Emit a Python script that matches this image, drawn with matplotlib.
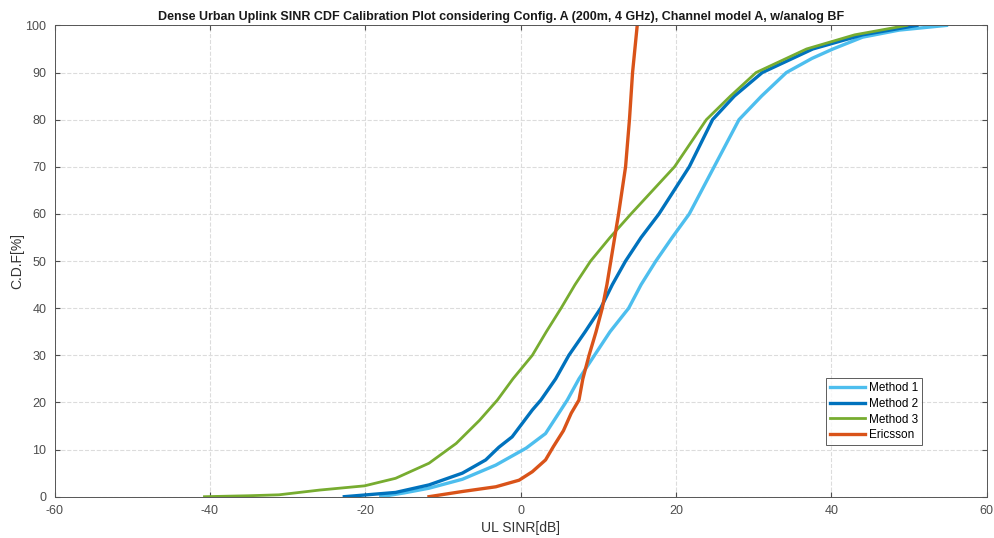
import matplotlib.pyplot as plt

plt.rcParams['font.family'] = ['Liberation Sans', 'DejaVu Sans']
plt.rcParams['axes.unicode_minus'] = False

# CDF readings (SINR in dB, CDF in %)
m1_x = [-18.0, -15.0, -11.8, -7.5, -3.2, 0.7, 3.2, 6.0, 7.5, 9.5, 11.5, 13.9, 15.5, 17.4, 19.5, 21.7, 24.9, 28.1, 31.0, 34.2, 37.5, 40.2, 44.0, 48.7, 54.8]
m1_y = [0.0, 0.8, 1.8, 3.7, 6.7, 10.3, 13.4, 20.5, 25.0, 30.0, 35.0, 40.0, 45.0, 50.0, 55.0, 60.0, 70.0, 80.0, 85.0, 90.0, 93.0, 95.0, 97.5, 99.0, 100.0]

m2_x = [-22.7, -16.1, -11.8, -7.5, -4.5, -2.8, -1.1, 1.5, 2.6, 4.5, 6.2, 8.3, 10.3, 11.8, 13.5, 15.5, 17.8, 21.7, 24.7, 27.5, 31.1, 37.6, 44.0, 51.0]
m2_y = [0.0, 0.9, 2.5, 5.0, 7.8, 10.5, 12.7, 18.4, 20.5, 25.0, 30.0, 35.0, 40.0, 45.0, 50.0, 55.0, 60.0, 70.0, 80.0, 85.0, 90.0, 95.0, 98.0, 100.0]

m3_x = [-40.7, -35.0, -31.1, -25.9, -20.1, -16.1, -11.8, -8.3, -5.3, -3.0, -1.0, 1.5, 3.3, 5.2, 7.0, 9.0, 11.5, 14.2, 17.0, 19.8, 23.9, 27.0, 30.3, 36.8, 43.0, 49.7]
m3_y = [0.0, 0.2, 0.4, 1.4, 2.3, 3.9, 7.1, 11.3, 16.2, 20.5, 25.0, 30.0, 35.0, 40.0, 45.0, 50.0, 55.0, 60.0, 65.0, 70.0, 80.0, 85.0, 90.0, 95.0, 98.0, 100.0]

er_x = [-11.8, -7.5, -3.2, -0.2, 1.5, 3.2, 4.2, 5.5, 6.5, 7.5, 8.0, 8.8, 9.7, 10.5, 11.1, 11.6, 12.1, 12.6, 13.5, 14.0, 14.4, 15.0]
er_y = [0.0, 1.1, 2.1, 3.5, 5.3, 7.8, 10.6, 14.0, 17.7, 20.5, 25.0, 30.0, 35.0, 40.0, 45.0, 50.0, 55.0, 60.0, 70.0, 80.0, 90.0, 100.0]

fig = plt.figure(figsize=(9.95, 5.38), dpi=100)
ax = fig.add_axes([0.0548, 0.0768, 0.937, 0.876])

ax.plot(m1_x, m1_y, color='#4DBEEE', lw=2.4, label='Method 1')
ax.plot(m2_x, m2_y, color='#0072BD', lw=2.4, label='Method 2')
ax.plot(m3_x, m3_y, color='#77AC30', lw=2.0, label='Method 3')
ax.plot(er_x, er_y, color='#D95319', lw=2.4, label='Ericsson')

ax.set_xlim(-60, 60)
ax.set_ylim(0, 100)
ax.set_xticks(range(-60, 61, 20))
ax.set_yticks(range(0, 101, 10))
ax.grid(True, ls='--', color='#dcdcdc', lw=0.8)
ax.tick_params(direction='in', top=True, right=True, labelsize=9, colors='#4d4d4d', pad=6)
for s in ax.spines.values():
    s.set_color('#555555')
    s.set_linewidth(0.7)

ax.set_title('Dense Urban Uplink SINR CDF Calibration Plot considering Config. A (200m, 4 GHz), Channel model A, w/analog BF',
             fontsize=9, fontweight='bold', pad=4, x=0.479, color='#1a1a1a')
ax.set_xlabel('UL SINR[dB]', fontsize=10, labelpad=3, color='#333333')
ax.set_ylabel('C.D.F[%]', fontsize=10, labelpad=1, color='#333333')

leg = ax.legend(loc='lower left', bbox_to_anchor=(0.828, 0.11), fontsize=8.5, frameon=True,
                fancybox=False, edgecolor='#333333', handlelength=3.0, handletextpad=0.3,
                borderpad=0.3, labelspacing=0.32, borderaxespad=0)
leg.get_frame().set_linewidth(0.7)

fig.savefig('out.png', dpi=100)
